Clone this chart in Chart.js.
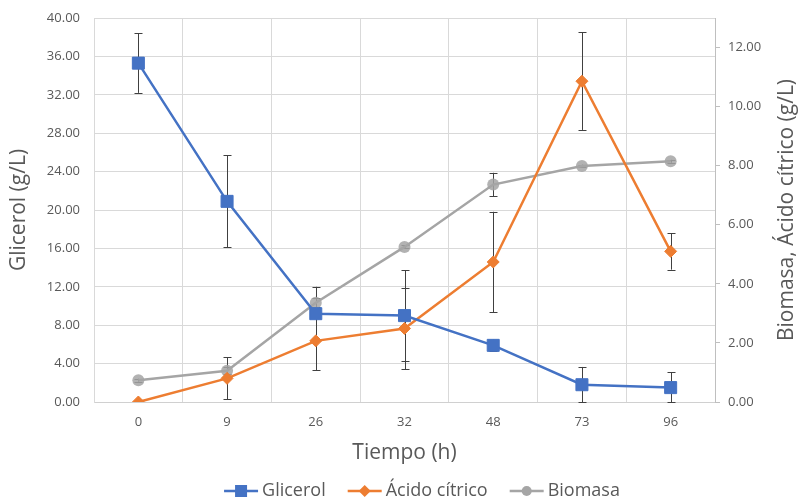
<!DOCTYPE html>
<html>
<head>
<meta charset="utf-8">
<script src="https://cdn.jsdelivr.net/npm/chart.js@4/dist/chart.umd.min.js"></script>
<style>
  html, body { margin: 0; padding: 0; background: #fff; }
  #wrap { width: 799px; height: 502px; }
</style>
</head>
<body>
<div id="wrap"><canvas id="chart"></canvas></div>
<script>
// datos
const tiempos = ['0', '9', '26', '32', '48', '73', '96'];
const glicerol = [35.3, 20.9, 9.2, 9.0, 5.9, 1.8, 1.5];
const glicerolErr = [3.1, 4.8, 2.8, 4.75, 0.6, 1.85, 1.6];
const acidoCitrico = [0.0, 0.8, 2.07, 2.49, 4.74, 10.86, 5.1];
const acidoErr = [0.0, 0.71, 1.0, 1.38, 1.7, 1.65, 0.62];
const biomasa = [0.74, 1.06, 3.36, 5.25, 7.36, 7.99, 8.15];
const biomasaErr = [0.05, 0.12, 0.15, 0.05, 0.4, 0.05, 0.05];

const textColor = '#595959';
const fontFamily = '"Open Sans", "Liberation Sans", sans-serif';
const tituloDerecho = 'Biomasa, Ácido cítrico (g/L)';

// marcador de leyenda: línea + símbolo
function drawLegendIcon(g, x, y, color, style) {
    g.strokeStyle = color;
    g.lineWidth = 2.5;
    g.beginPath();
    g.moveTo(x, y);
    g.lineTo(x + 34, y);
    g.stroke();
    g.fillStyle = color;
    const cx = x + 17;
    if (style === 'rect') {
        g.fillRect(cx - 6, y - 6, 12, 12);
    } else if (style === 'rectRot') {
        g.beginPath();
        g.moveTo(cx, y - 6); g.lineTo(cx + 6, y); g.lineTo(cx, y + 6); g.lineTo(cx - 6, y);
        g.closePath();
        g.fill();
    } else {
        g.beginPath();
        g.arc(cx, y, 5, 0, Math.PI * 2);
        g.fill();
    }
}

const errorBars = {
    id: 'errorBars',
    beforeDatasetsDraw(chart) {
        const ctx = chart.ctx;
        ctx.save();
        ctx.strokeStyle = '#404040';
        ctx.lineWidth = 1;
        chart.data.datasets.forEach((ds, i) => {
            const meta = chart.getDatasetMeta(i);
            const scale = chart.scales[ds.yAxisID];
            meta.data.forEach((pt, j) => {
                const e = ds.errors[j];
                if (!e) return;
                const top = scale.getPixelForValue(ds.data[j] + e);
                const bottom = scale.getPixelForValue(Math.max(0, ds.data[j] - e));
                const x = Math.round(pt.x) + 0.5;
                ctx.beginPath();
                ctx.moveTo(x, top);
                ctx.lineTo(x, bottom);
                ctx.moveTo(x - 4, Math.round(top) + 0.5);
                ctx.lineTo(x + 4, Math.round(top) + 0.5);
                ctx.moveTo(x - 4, Math.round(bottom) + 0.5);
                ctx.lineTo(x + 4, Math.round(bottom) + 0.5);
                ctx.stroke();
            });
        });
        ctx.restore();
    }
};

// título del eje derecho (de abajo hacia arriba) y leyenda inferior
const extras = {
    id: 'extras',
    afterDraw(chart) {
        const ctx = chart.ctx;
        const area = chart.chartArea;
        ctx.save();
        ctx.translate(chart.width - 12, (area.top + area.bottom) / 2);
        ctx.rotate(-Math.PI / 2);
        ctx.fillStyle = textColor;
        ctx.font = '21px ' + fontFamily;
        ctx.textAlign = 'center';
        ctx.textBaseline = 'middle';
        ctx.fillText(tituloDerecho, 0, 0);
        ctx.restore();

        ctx.save();
        ctx.font = '18px ' + fontFamily;
        ctx.textBaseline = 'middle';
        ctx.textAlign = 'left';
        const items = chart.data.datasets.map(ds => ({
            ds, w: 34 + 4 + ctx.measureText(ds.label).width
        }));
        const gap = 22;
        const total = items.reduce((s, it) => s + it.w, 0) + gap * (items.length - 1);
        let x = 422 - total / 2;
        const y = 491;
        items.forEach(it => {
            drawLegendIcon(ctx, x, y, it.ds.borderColor, it.ds.pointStyle);
            ctx.fillStyle = textColor;
            ctx.fillText(it.ds.label, x + 38, y);
            x += it.w + gap;
        });
        ctx.restore();
    }
};

function noEdgePadding(scale) {
    scale.paddingTop = 0;
    scale.paddingBottom = 0;
}

new Chart(document.getElementById('chart'), {
    type: 'line',
    data: {
        labels: tiempos,
        datasets: [
            {
                label: 'Glicerol',
                data: glicerol,
                errors: glicerolErr,
                yAxisID: 'y',
                borderColor: '#4472C4',
                backgroundColor: '#4472C4',
                borderWidth: 2.5,
                pointStyle: 'rect',
                pointRadius: 8.5,
                pointBorderWidth: 1
            },
            {
                label: 'Ácido cítrico',
                data: acidoCitrico,
                errors: acidoErr,
                yAxisID: 'y2',
                borderColor: '#ED7D31',
                backgroundColor: '#ED7D31',
                borderWidth: 2.5,
                pointStyle: 'rectRot',
                pointRadius: 6,
                pointBorderWidth: 1
            },
            {
                label: 'Biomasa',
                data: biomasa,
                errors: biomasaErr,
                yAxisID: 'y2',
                borderColor: '#A5A5A5',
                backgroundColor: 'rgba(165,165,165,0.85)',
                borderWidth: 2.5,
                pointStyle: 'circle',
                pointRadius: 6,
                pointBorderWidth: 0
            }
        ]
    },
    options: {
        responsive: true,
        maintainAspectRatio: false,
        animation: false,
        layout: { padding: { top: 18, left: 0, right: 0, bottom: 36 } },
        scales: {
            x: {
                offset: true,
                grid: { offset: true, color: '#d9d9d9', drawTicks: false },
                border: { color: '#d0d0d0' },
                ticks: { color: textColor, font: { family: fontFamily, size: 13 }, padding: 12 },
                title: { display: true, text: 'Tiempo (h)', color: textColor, font: { family: fontFamily, size: 21 }, padding: { top: 6, bottom: 0 } },
                afterFit(scale) { scale.height = 64; }
            },
            y: {
                position: 'left',
                min: 0,
                max: 40,
                ticks: { stepSize: 4, color: textColor, font: { family: fontFamily, size: 13 }, padding: 14,
                    callback: v => v.toFixed(2) },
                grid: { color: '#d9d9d9', drawTicks: false },
                border: { color: '#d9d9d9' },
                title: { display: true, text: 'Glicerol (g/L)', color: textColor, font: { family: fontFamily, size: 21 }, padding: { top: 6, bottom: 0 } },
                afterFit(scale) { scale.width = 94; noEdgePadding(scale); }
            },
            y2: {
                position: 'right',
                min: 0,
                max: 13,
                ticks: { stepSize: 2, color: textColor, font: { family: fontFamily, size: 13 }, padding: 8,
                    callback: v => v.toFixed(2) },
                afterBuildTicks(scale) { scale.ticks = scale.ticks.filter(t => t.value % 2 === 0); },
                grid: { drawOnChartArea: false, color: '#bfbfbf', tickLength: 5 },
                border: { color: '#bfbfbf' },
                afterFit(scale) { scale.width = 84; noEdgePadding(scale); }
            }
        },
        plugins: {
            legend: { display: false },
            tooltip: { enabled: false }
        }
    },
    plugins: [errorBars, extras]
});
</script>
</body>
</html>
